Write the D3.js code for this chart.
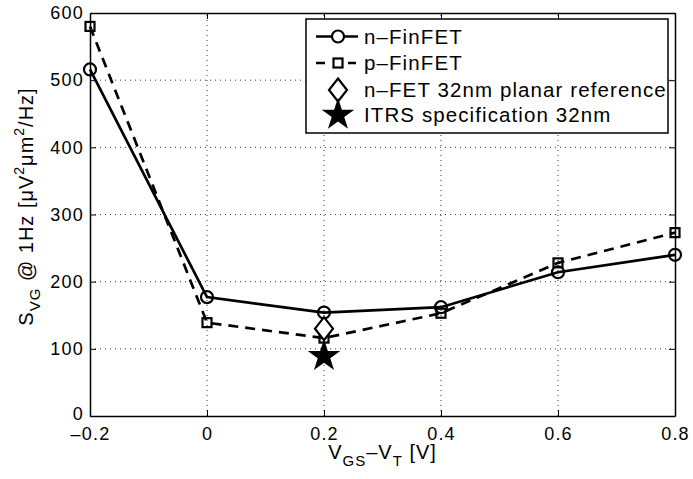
<!DOCTYPE html>
<html>
<head>
<meta charset="utf-8">
<script src="https://cdn.jsdelivr.net/npm/d3@7"></script>
<style>
    body { margin: 0; background: #fff; }
    text { font-family: "Liberation Sans", Arial, sans-serif; fill: #000; }
</style>
</head>
<body>
<div id="viz"></div>
<script>
let vgs = [-0.2, 0, 0.2, 0.4, 0.6, 0.8];
let nFinFET = [516, 177, 154, 162, 214, 240];
let pFinFET = [580, 139, 116, 153, 228, 273];
let planarRef = [{x: 0.2, y: 130}];
let itrsSpec = [{x: 0.2, y: 89}];
let xTicks = [-0.2, 0, 0.2, 0.4, 0.6, 0.8];
let yTicks = [0, 100, 200, 300, 400, 500, 600];
let legendLabels = ['n\u2013FinFET', 'p\u2013FinFET', 'n\u2013FET 32nm planar reference', 'ITRS specification 32nm'];

let width = 693, height = 479;
let margin = {top: 13, right: 18, bottom: 63, left: 90};

let svg = d3.select('#viz').append('svg')
    .attr('width', width)
    .attr('height', height);

let x = d3.scaleLinear().domain([-0.2, 0.8]).range([margin.left, width - margin.right]);
let y = d3.scaleLinear().domain([0, 600]).range([height - margin.bottom, margin.top]);

let fmt = d => d === 0 ? '0' : (d < 0 ? '\u2013' : '') + Math.abs(d).toFixed(1);

// grid
let grid = svg.append('g').attr('stroke', '#000').attr('stroke-width', 0.8).attr('stroke-dasharray', '1,4');
grid.selectAll('.gx').data(xTicks.slice(1, -1)).enter().append('line')
    .attr('x1', d => x(d)).attr('x2', d => x(d))
    .attr('y1', y(0)).attr('y2', y(600));
grid.selectAll('.gy').data(yTicks.slice(1, -1)).enter().append('line')
    .attr('x1', x(-0.2)).attr('x2', x(0.8))
    .attr('y1', d => y(d)).attr('y2', d => y(d));

// axes, ticks pointing inward
let xAxis = svg.append('g').attr('transform', 'translate(0,' + y(0) + ')')
    .call(d3.axisBottom(x).tickValues(xTicks).tickFormat(fmt).tickSizeInner(-6).tickSizeOuter(0).tickPadding(11));
let xTop = svg.append('g').attr('transform', 'translate(0,' + y(600) + ')')
    .call(d3.axisTop(x).tickValues(xTicks).tickFormat('').tickSizeInner(-6).tickSizeOuter(0));
let yAxis = svg.append('g').attr('transform', 'translate(' + x(-0.2) + ',0)')
    .call(d3.axisLeft(y).tickValues(yTicks).tickSizeInner(-6).tickSizeOuter(0).tickPadding(6));
let yRight = svg.append('g').attr('transform', 'translate(' + x(0.8) + ',0)')
    .call(d3.axisRight(y).tickValues(yTicks).tickFormat('').tickSizeInner(-6).tickSizeOuter(0));

for (let a of [xAxis, xTop, yAxis, yRight]) {
    a.select('.domain').attr('stroke', '#000').attr('stroke-width', 1.5);
    a.selectAll('.tick line').attr('stroke', '#000').attr('stroke-width', 1);
    a.selectAll('text').style('font-size', '18px').style('letter-spacing', '1.2px')
        .style('font-family', '"Liberation Sans", Arial, sans-serif');
}
// the "0" on the y axis sits a touch higher in the original
yAxis.selectAll('.tick text').filter(d => d === 0).attr('dy', '0.2em');

// data lines
let line = d3.line().x((d, i) => x(vgs[i])).y(d => y(d));

svg.append('path').datum(pFinFET)
    .attr('d', line)
    .attr('fill', 'none').attr('stroke', '#000')
    .attr('stroke-width', 2.7).attr('stroke-dasharray', '10,7');

svg.append('path').datum(nFinFET)
    .attr('d', line)
    .attr('fill', 'none').attr('stroke', '#000')
    .attr('stroke-width', 2.7);

svg.selectAll('.sq').data(pFinFET).enter().append('rect')
    .attr('x', (d, i) => x(vgs[i]) - 4.5).attr('y', d => y(d) - 4.5)
    .attr('width', 9).attr('height', 9)
    .attr('fill', 'none').attr('stroke', '#000').attr('stroke-width', 2.2);

svg.selectAll('.ci').data(nFinFET).enter().append('circle')
    .attr('cx', (d, i) => x(vgs[i])).attr('cy', d => y(d))
    .attr('r', 6)
    .attr('fill', 'none').attr('stroke', '#000').attr('stroke-width', 2.2);

let diamond = (cx, cy) => 'M' + cx + ',' + (cy - 11.5) + 'L' + (cx + 9) + ',' + cy + 'L' + cx + ',' + (cy + 11.5) + 'L' + (cx - 9) + ',' + cy + 'Z';
let star = d3.symbol().type(d3.symbolStar).size(330);

svg.selectAll('.dm').data(planarRef).enter().append('path')
    .attr('d', d => diamond(x(d.x), y(d.y)))
    .attr('fill', '#fff').attr('stroke', '#000').attr('stroke-width', 2.2);

svg.selectAll('.st').data(itrsSpec).enter().append('path')
    .attr('d', star)
    .attr('transform', d => 'translate(' + x(d.x) + ',' + y(d.y) + ')')
    .attr('fill', '#000');

// legend
let lg = svg.append('g').attr('transform', 'translate(306,19)');
lg.append('rect').attr('width', 362).attr('height', 114)
    .attr('fill', '#fff').attr('stroke', '#000').attr('stroke-width', 1.5);

let rows = [17.5, 44, 71, 96];
rows.forEach((ry, i) => {
    lg.append('text').attr('x', 58).attr('y', ry + 7).style('font-size', '20.5px')
        .style('letter-spacing', '1.1px').text(legendLabels[i]);
});
lg.append('line').attr('x1', 10).attr('x2', 52).attr('y1', rows[0]).attr('y2', rows[0])
    .attr('stroke', '#000').attr('stroke-width', 2.7);
lg.append('circle').attr('cx', 32).attr('cy', rows[0]).attr('r', 6)
    .attr('fill', '#fff').attr('stroke', '#000').attr('stroke-width', 2.2);
lg.append('line').attr('x1', 10).attr('x2', 50).attr('y1', rows[1]).attr('y2', rows[1])
    .attr('stroke', '#000').attr('stroke-width', 2.7).attr('stroke-dasharray', '9,23');
lg.append('rect').attr('x', 27.5).attr('y', rows[1] - 4.5).attr('width', 9).attr('height', 9)
    .attr('fill', '#fff').attr('stroke', '#000').attr('stroke-width', 2.2);
lg.append('path').attr('d', diamond(32, rows[2])).attr('fill', '#fff').attr('stroke', '#000').attr('stroke-width', 2.2);
lg.append('path').attr('d', star).attr('transform', 'translate(32,' + rows[3] + ')').attr('fill', '#000');

// axis titles
let xt = svg.append('text')
    .attr('x', (x(-0.2) + x(0.8)) / 2).attr('y', 459)
    .attr('text-anchor', 'middle').style('font-size', '20px').style('letter-spacing', '1px');
xt.append('tspan').text('V');
xt.append('tspan').attr('dy', 7).style('font-size', '15px').text('GS');
xt.append('tspan').attr('dy', -7).text('\u2013V');
xt.append('tspan').attr('dy', 7).style('font-size', '15px').text('T');
xt.append('tspan').attr('dy', -7).text(' [V]');

let yt = svg.append('text')
    .attr('transform', 'translate(33,' + (y(300) - 8) + ') rotate(-90)')
    .attr('text-anchor', 'middle').style('font-size', '20px').style('letter-spacing', '1px');
yt.append('tspan').text('S');
yt.append('tspan').attr('dy', 7).style('font-size', '15px').text('VG');
yt.append('tspan').attr('dy', -7).text(' @ 1Hz [\u03bcV');
yt.append('tspan').attr('dy', -9).style('font-size', '14px').text('2');
yt.append('tspan').attr('dy', 9).text('\u03bcm');
yt.append('tspan').attr('dy', -9).style('font-size', '14px').text('2');
yt.append('tspan').attr('dy', 9).text('/Hz]');
</script>
</body>
</html>
